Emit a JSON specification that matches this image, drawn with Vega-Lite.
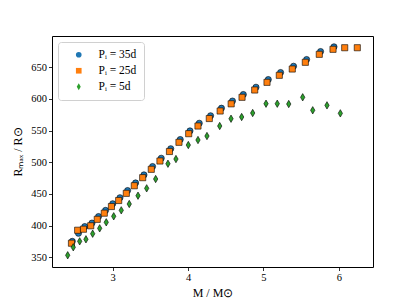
{
  "$schema": "https://vega.github.io/schema/vega-lite/v6.json",
  "width": 321,
  "height": 231,
  "autosize": {"type": "none"},
  "padding": {"left": 52, "top": 36, "right": 42, "bottom": 34},
  "background": "white",
  "config": {
    "view": {"stroke": "black", "strokeWidth": 1},
    "font": "Liberation Serif",
    "legend": {
      "orient": "top-left",
      "offset": 6,
      "title": null,
      "padding": 7,
      "strokeColor": "#d0d0d0",
      "strokeWidth": 1,
      "cornerRadius": 3,
      "fillColor": "white",
      "labelFont": "Liberation Serif",
      "labelFontSize": 11.5,
      "labelColor": "black",
      "symbolSize": 32,
      "symbolStrokeColor": "black",
      "symbolStrokeWidth": 0.6,
      "symbolOpacity": 1,
      "rowPadding": 3,
      "symbolOffset": 8,
      "labelOffset": 14
    }
  },
  "data": {
    "values": [
      {"series": "Pᵢ = 35d", "M": 2.466, "R": 375.2},
      {"series": "Pᵢ = 35d", "M": 2.548, "R": 387.9},
      {"series": "Pᵢ = 35d", "M": 2.631, "R": 398.5},
      {"series": "Pᵢ = 35d", "M": 2.727, "R": 404.0},
      {"series": "Pᵢ = 35d", "M": 2.814, "R": 414.3},
      {"series": "Pᵢ = 35d", "M": 2.907, "R": 424.0},
      {"series": "Pᵢ = 35d", "M": 3.002, "R": 434.5},
      {"series": "Pᵢ = 35d", "M": 3.098, "R": 444.0},
      {"series": "Pᵢ = 35d", "M": 3.199, "R": 455.3},
      {"series": "Pᵢ = 35d", "M": 3.305, "R": 467.3},
      {"series": "Pᵢ = 35d", "M": 3.416, "R": 480.0},
      {"series": "Pᵢ = 35d", "M": 3.530, "R": 493.2},
      {"series": "Pᵢ = 35d", "M": 3.645, "R": 506.3},
      {"series": "Pᵢ = 35d", "M": 3.771, "R": 521.3},
      {"series": "Pᵢ = 35d", "M": 3.897, "R": 535.8},
      {"series": "Pᵢ = 35d", "M": 4.026, "R": 549.4},
      {"series": "Pᵢ = 35d", "M": 4.149, "R": 561.5},
      {"series": "Pᵢ = 35d", "M": 4.299, "R": 573.3},
      {"series": "Pᵢ = 35d", "M": 4.443, "R": 585.2},
      {"series": "Pᵢ = 35d", "M": 4.589, "R": 596.5},
      {"series": "Pᵢ = 35d", "M": 4.733, "R": 606.8},
      {"series": "Pᵢ = 35d", "M": 4.901, "R": 618.3},
      {"series": "Pᵢ = 35d", "M": 5.064, "R": 630.4},
      {"series": "Pᵢ = 35d", "M": 5.227, "R": 641.5},
      {"series": "Pᵢ = 35d", "M": 5.399, "R": 651.4},
      {"series": "Pᵢ = 35d", "M": 5.572, "R": 662.0},
      {"series": "Pᵢ = 35d", "M": 5.757, "R": 674.6},
      {"series": "Pᵢ = 35d", "M": 5.935, "R": 682.0},
      {"series": "Pᵢ = 25d", "M": 2.455, "R": 372.2},
      {"series": "Pᵢ = 25d", "M": 2.537, "R": 392.7},
      {"series": "Pᵢ = 25d", "M": 2.614, "R": 394.3},
      {"series": "Pᵢ = 25d", "M": 2.710, "R": 399.7},
      {"series": "Pᵢ = 25d", "M": 2.797, "R": 409.9},
      {"series": "Pᵢ = 25d", "M": 2.890, "R": 419.6},
      {"series": "Pᵢ = 25d", "M": 2.985, "R": 430.1},
      {"series": "Pᵢ = 25d", "M": 3.081, "R": 439.6},
      {"series": "Pᵢ = 25d", "M": 3.182, "R": 450.9},
      {"series": "Pᵢ = 25d", "M": 3.288, "R": 462.9},
      {"series": "Pᵢ = 25d", "M": 3.399, "R": 475.6},
      {"series": "Pᵢ = 25d", "M": 3.513, "R": 488.8},
      {"series": "Pᵢ = 25d", "M": 3.628, "R": 501.9},
      {"series": "Pᵢ = 25d", "M": 3.754, "R": 516.9},
      {"series": "Pᵢ = 25d", "M": 3.880, "R": 531.4},
      {"series": "Pᵢ = 25d", "M": 4.009, "R": 545.0},
      {"series": "Pᵢ = 25d", "M": 4.132, "R": 557.1},
      {"series": "Pᵢ = 25d", "M": 4.282, "R": 568.9},
      {"series": "Pᵢ = 25d", "M": 4.426, "R": 580.8},
      {"series": "Pᵢ = 25d", "M": 4.572, "R": 592.1},
      {"series": "Pᵢ = 25d", "M": 4.716, "R": 602.4},
      {"series": "Pᵢ = 25d", "M": 4.884, "R": 613.9},
      {"series": "Pᵢ = 25d", "M": 5.047, "R": 626.0},
      {"series": "Pᵢ = 25d", "M": 5.210, "R": 637.1},
      {"series": "Pᵢ = 25d", "M": 5.382, "R": 647.0},
      {"series": "Pᵢ = 25d", "M": 5.555, "R": 657.6},
      {"series": "Pᵢ = 25d", "M": 5.740, "R": 670.2},
      {"series": "Pᵢ = 25d", "M": 5.922, "R": 678.1},
      {"series": "Pᵢ = 25d", "M": 6.077, "R": 680.6},
      {"series": "Pᵢ = 25d", "M": 6.244, "R": 680.6},
      {"series": "Pᵢ = 5d", "M": 2.405, "R": 353.2},
      {"series": "Pᵢ = 5d", "M": 2.479, "R": 365.8},
      {"series": "Pᵢ = 5d", "M": 2.564, "R": 375.2},
      {"series": "Pᵢ = 5d", "M": 2.647, "R": 378.4},
      {"series": "Pᵢ = 5d", "M": 2.736, "R": 387.2},
      {"series": "Pᵢ = 5d", "M": 2.829, "R": 395.7},
      {"series": "Pᵢ = 5d", "M": 2.916, "R": 405.2},
      {"series": "Pᵢ = 5d", "M": 3.015, "R": 414.7},
      {"series": "Pᵢ = 5d", "M": 3.115, "R": 424.1},
      {"series": "Pᵢ = 5d", "M": 3.221, "R": 434.1},
      {"series": "Pᵢ = 5d", "M": 3.337, "R": 447.2},
      {"series": "Pᵢ = 5d", "M": 3.452, "R": 458.8},
      {"series": "Pᵢ = 5d", "M": 3.571, "R": 473.5},
      {"series": "Pᵢ = 5d", "M": 3.734, "R": 497.6},
      {"series": "Pᵢ = 5d", "M": 3.840, "R": 505.0},
      {"series": "Pᵢ = 5d", "M": 4.004, "R": 527.1},
      {"series": "Pᵢ = 5d", "M": 4.132, "R": 535.0},
      {"series": "Pᵢ = 5d", "M": 4.251, "R": 541.3},
      {"series": "Pᵢ = 5d", "M": 4.420, "R": 557.1},
      {"series": "Pᵢ = 5d", "M": 4.570, "R": 568.6},
      {"series": "Pᵢ = 5d", "M": 4.711, "R": 571.3},
      {"series": "Pᵢ = 5d", "M": 4.857, "R": 577.6},
      {"series": "Pᵢ = 5d", "M": 5.034, "R": 592.3},
      {"series": "Pᵢ = 5d", "M": 5.183, "R": 592.3},
      {"series": "Pᵢ = 5d", "M": 5.335, "R": 591.8},
      {"series": "Pᵢ = 5d", "M": 5.520, "R": 602.4},
      {"series": "Pᵢ = 5d", "M": 5.653, "R": 581.9},
      {"series": "Pᵢ = 5d", "M": 5.842, "R": 589.7},
      {"series": "Pᵢ = 5d", "M": 6.019, "R": 577.1}
    ]
  },
  "mark": {"type": "point", "filled": true, "opacity": 1, "stroke": "black", "strokeWidth": 0.6, "size": 38},
  "encoding": {
    "x": {
      "field": "M", "type": "quantitative",
      "scale": {"domain": [2.197, 6.452], "nice": false, "zero": false},
      "axis": {
        "values": [3, 4, 5, 6], "grid": false, "domain": false,
        "tickSize": 3.5, "tickColor": "black", "tickWidth": 0.8,
        "labelFont": "Liberation Serif", "labelFontSize": 10.5, "labelColor": "black", "labelPadding": 2,
        "title": "M / M⊙", "titleFont": "Liberation Serif", "titleFontSize": 12, "titleFontWeight": "normal", "titleColor": "black", "titlePadding": 4
      }
    },
    "y": {
      "field": "R", "type": "quantitative",
      "scale": {"domain": [334.7, 699.1], "nice": false, "zero": false},
      "axis": {
        "values": [350, 400, 450, 500, 550, 600, 650], "grid": false, "domain": false,
        "tickSize": 3.5, "tickColor": "black", "tickWidth": 0.8,
        "labelFont": "Liberation Serif", "labelFontSize": 10.5, "labelColor": "black", "labelPadding": 2,
        "title": "Rₘₐₓ / R⊙", "titleFont": "Liberation Serif", "titleFontSize": 12, "titleFontWeight": "normal", "titleColor": "black", "titlePadding": 6
      }
    },
    "color": {
      "field": "series", "type": "nominal",
      "scale": {"domain": ["Pᵢ = 35d", "Pᵢ = 25d", "Pᵢ = 5d"], "range": ["#1f77b4", "#ff7f0e", "#2ca02c"]}
    },
    "shape": {
      "field": "series", "type": "nominal",
      "scale": {"domain": ["Pᵢ = 35d", "Pᵢ = 25d", "Pᵢ = 5d"], "range": ["circle", "square", "M0,-1.2L0.7,0L0,1.2L-0.7,0Z"]}
    }
  }
}
